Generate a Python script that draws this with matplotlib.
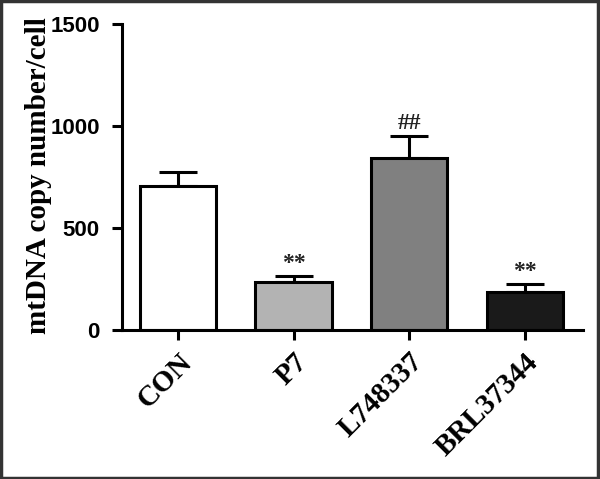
import matplotlib.pyplot as plt
from matplotlib.patches import Rectangle

# Data
groups = ["CON", "P7", "L748337", "BRL37344"]
means = [707, 237, 842, 185]
errors = [67, 29, 110, 39]
marks = ["", "**", "##", "**"]
colors = ["#ffffff", "#b3b3b3", "#808080", "#1a1a1a"]

fig = plt.figure(figsize=(6, 4.79), dpi=100)
ax = fig.add_axes([0.2033, 0.311, 0.7687, 0.639])

x = list(range(len(groups)))
ax.bar(x, means, width=0.66, color=colors, edgecolor="black", linewidth=2.2, zorder=2)
ax.errorbar(x, means, yerr=[[0] * len(errors), errors], fmt="none", ecolor="black",
            elinewidth=2.2, capsize=14, capthick=2.2, zorder=1)

for i, m in enumerate(marks):
    if m:
        ax.text(x[i], means[i] + errors[i] + 10, m, ha="center", va="bottom",
                fontsize=17, fontfamily="Liberation Serif", fontweight="bold", color="#222222")

ax.set_xlim(-0.485, 3.506)
ax.set_ylim(0, 1500)
ax.set_yticks([0, 500, 1000, 1500])
ax.set_xticks(x)
ax.set_xticklabels(groups, rotation=45, ha="right", rotation_mode="anchor",
                   fontsize=21, fontfamily="Liberation Serif", fontweight="bold")
for lab in ax.get_yticklabels():
    lab.set_fontfamily("Liberation Sans")
    lab.set_fontweight("bold")
    lab.set_fontsize(16)

ax.spines["top"].set_visible(False)
ax.spines["right"].set_visible(False)
ax.spines["left"].set_linewidth(2.2)
ax.spines["bottom"].set_linewidth(2.2)
ax.tick_params(axis="both", width=2.2, length=7, direction="out")
ax.tick_params(axis="y", pad=9)
ax.tick_params(axis="x", pad=6)

ax.set_ylabel("mtDNA copy number/cell", fontsize=21, fontfamily="Liberation Serif",
              fontweight="bold")
ax.yaxis.set_label_coords(-0.152, 0.505)

# outer border of the figure
fig.patches.append(Rectangle((0.002, 0.002), 0.995, 0.995, transform=fig.transFigure,
                             fill=False, edgecolor="#333333", linewidth=2.5))

plt.savefig("out.png", dpi=100)
